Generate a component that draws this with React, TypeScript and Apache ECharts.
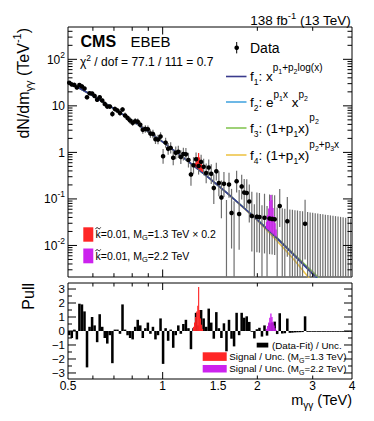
import React, { useEffect, useRef } from "react";
import * as echarts from "echarts";

const FONT = '"Liberation Sans", Arial, Helvetica, sans-serif';

// ---------------- data ----------------
// bin centres of m_gammagamma (TeV)
const binCenters = [
  0.5047, 0.5141, 0.5238, 0.5336, 0.5436, 0.5538, 0.5642, 0.5747, 0.5855, 0.5965,
  0.6076, 0.619, 0.6306, 0.6424, 0.6545, 0.6667, 0.6792, 0.692, 0.7049, 0.7181,
  0.7316, 0.7453, 0.7593, 0.7735, 0.788, 0.8028, 0.8178, 0.8331, 0.8487, 0.8646,
  0.8808, 0.8974, 0.9142, 0.9313, 0.9487, 0.9665, 0.9846, 1.0031, 1.0219, 1.041,
  1.0605, 1.0804, 1.1006, 1.1213, 1.1423, 1.1637, 1.1855, 1.2077, 1.2303, 1.2534,
  1.2769, 1.3008, 1.3252, 1.35, 1.3753, 1.4011, 1.4273, 1.4541, 1.4813, 1.5091,
  1.5374, 1.5662, 1.5955, 1.6254, 1.6559, 1.6869, 1.7185, 1.7507, 1.7835, 1.8169,
  1.851, 1.8857, 1.921, 1.957, 1.9937, 2.0311, 2.0691, 2.1079, 2.1474, 2.1876,
  2.2286, 2.2704, 2.3129, 2.3563, 2.4004, 2.4454, 2.4912, 2.5379, 2.5855, 2.6339,
  2.6833, 2.7336, 2.7848, 2.837, 2.8901, 2.9443, 2.9995, 3.0557, 3.1129, 3.1713,
  3.2307, 3.2912, 3.3529, 3.4157, 3.4797, 3.5449, 3.6114, 3.679, 3.748, 3.8182,
  3.8897, 3.9626,
];
const binRelWidth = 0.018567; // bin width / bin centre
const countScale = 650; // events per (dN/dm x bin width)

// observed events per bin
const counts = [
  190, 179, 178, 160, 184, 175, 161, 106, 132, 133,
  120, 101, 116, 101, 87, 78, 79, 56, 73, 69,
  62, 75, 57, 51, 46, 42, 46, 46, 40, 32,
  34, 34, 28, 28, 22, 22, 26, 10, 20, 15,
  16, 10, 13, 14, 11, 13, 13, 10, 5, 8,
  11, 8, 10, 8, 6, 8, 6, 3, 7, 4,
  2, 4, 0, 4, 1, 0, 5, 1, 4, 3,
  3, 2, 1, 0, 1, 1, 0, 1, 0, 1,
  1, 1, 0, 2, 0, 0, 1, 0, 0, 0,
  0, 0, 0, 1, 0, 0, 0, 0, 0, 0,
  0, 0, 0, 0, 0, 0, 0, 0, 0, 0,
  0, 0,
];

// (Data-Fit)/Unc. per bin
const pulls = [
  -0.3, -0.5, 0.1, -0.6, 1.95, 1.9, 1.4, -2.6, 0.3, 1.0,
  0.4, -0.8, 1.2, 0.3, -0.5, -0.9, -0.3, -2.3, 0.1, 0.1,
  -0.2, 1.9, 0.1, -0.3, -0.5, -0.6, 0.3, 0.8, 0.4, -0.5,
  0.2, 0.6, -0.2, 0.3, -0.6, -0.3, 0.9, -2.35, 0.2, -0.7,
  0.1, -1.2, -0.3, 0.4, -0.2, 0.5, 0.8, 0.2, -1.3, 0.2,
  1.3, 0.4, 1.5, 0.9, 0.3, 1.6, 0.6, -0.55, 1.35, 0.2,
  -0.5, 0.55, -1.45, 0.8, -0.55, -1.1, 1.3, -0.3, 1.3, 0.95,
  1.05, 0.65, -0.04, -0.53, 0.13, 0.23, -0.4, 0.4, -0.33, 0.55,
  0.61, 0.67, -0.22, 1.27, -0.18, -0.16, 0.89, -0.13, -0.12, -0.1,
  -0.09, -0.085, -0.076, 1.05, -0.06, -0.054, -0.049, -0.043, -0.038, -0.033,
  -0.029, -0.026, -0.022, -0.019, -0.016, -0.014, -0.012, -0.01, -0.009, -0.008,
  -0.007, -0.005,
];

// background fit functions (TeV^-1)
const fitMass = [0.5, 0.6, 0.7, 0.8, 0.9, 1.0, 1.2, 1.4, 1.6, 1.8, 2.0, 2.3, 2.6, 3.0, 3.2];
const fitF1 = [33.0, 16.5, 8.7, 4.83, 2.8, 1.68, 0.66, 0.288, 0.135, 0.067, 0.0356, 0.0147, 0.0065, 0.00245, 0.0016];
const fitF2 = [33.0, 16.5, 8.7, 4.83, 2.8, 1.68, 0.66, 0.288, 0.135, 0.067, 0.0355, 0.0146, 0.0064, 0.0024, 0.00158];
const fitF3 = [33.0, 16.5, 8.7, 4.83, 2.8, 1.68, 0.66, 0.288, 0.135, 0.0672, 0.0358, 0.0151, 0.0068, 0.0027, 0.00175];
const fitF4 = [33.0, 16.5, 8.7, 4.83, 2.8, 1.68, 0.66, 0.288, 0.135, 0.066, 0.0345, 0.013, 0.0052, 0.0016, 0.0009];

// signal shapes on top of the fit (upper panel)
const sig13Edges = [1.268, 1.277, 1.286, 1.295, 1.304, 1.313, 1.322, 1.331, 1.34];
const sig13Top = [0.6, 0.7, 0.8, 0.97, 0.78, 0.66, 0.56, 0.47];
const sig13Base = [0.49, 0.475, 0.458, 0.442, 0.426, 0.41, 0.395, 0.38];
const sig22Edges = [2.13, 2.147, 2.164, 2.181, 2.198, 2.215, 2.232, 2.249, 2.266, 2.283, 2.3];
const sig22Top = [0.032, 0.045, 0.062, 0.09, 0.122, 0.095, 0.064, 0.043, 0.03, 0.022];
const sig22Base = [0.0233, 0.0223, 0.0213, 0.0204, 0.0195, 0.0186, 0.0178, 0.017, 0.0162, 0.0155];

// signal / unc. (lower panel)
const pullSig13Edges = [1.248, 1.258, 1.268, 1.278, 1.288, 1.296, 1.304, 1.312, 1.322, 1.332, 1.342];
const pullSig13 = [0.3, 0.6, 1.0, 1.4, 1.8, 3.15, 1.5, 0.9, 0.45, 0.15];
const pullSig22Edges = [2.13, 2.147, 2.164, 2.181, 2.198, 2.215, 2.232, 2.249, 2.266, 2.283, 2.3];
const pullSig22 = [0.15, 0.35, 0.6, 0.95, 1.25, 1.0, 0.65, 0.4, 0.2, 0.08];

// axes
const yMin = 0.0021;
const yMax = 495;
const pullMin = -3.43;
const pullMax = 3.43;
const yTickValues = [0.01, 0.1, 1, 10, 100];
const yTickBase = ["10", "10", "1", "10", "10"];
const yTickExp = ["-2", "-1", "", "", "2"];
const xTickMajor = [1];
const xTickMinor = [0.6, 0.7, 0.8, 0.9, 2, 3];
const xLabelValues = [0.5, 1, 1.5, 2, 3, 4];
const xLabelTexts = ["0.5", "1", "1.5", "2", "3", "4"];
const pullTickValues = [-3, -2, -1, 0, 1, 2, 3];
const pullTickLabels = ["\u22123", "\u22122", "\u22121", "0", "1", "2", "3"];

// colours
const C_F1 = "#3a3b8c";
const C_F2 = "#49a7e0";
const C_F3 = "#86c655";
const C_F4 = "#eec54a";
const C_RED = "#ff2626";
const C_MAG = "#cc22ee";

// ---------------- helpers ----------------
let mctx: CanvasRenderingContext2D | null = null;
function measure(t: string, s: number, w?: string) {
  if (!mctx) mctx = document.createElement("canvas").getContext("2d");
  if (!mctx) return t.length * s * 0.55;
  mctx.font = `${w || "normal"} ${s}px ${FONT}`;
  return mctx.measureText(t).width;
}
type Piece = { t: string; s: number; dy?: number; w?: string };
function compose(pieces: Piece[], x0: number, base: number, align: string, fill = "#000") {
  const widths = pieces.map((p) => measure(p.t, p.s, p.w));
  const total = widths.reduce((a, b) => a + b, 0);
  let x = align === "right" ? x0 - total : align === "center" ? x0 - total / 2 : x0;
  return pieces.map((p, i) => {
    const el = {
      type: "text",
      x,
      y: base + (p.dy || 0) - 0.35 * p.s,
      silent: true,
      style: {
        text: p.t,
        fill,
        font: `${p.w || "normal"} ${p.s}px ${FONT}`,
        align: "left",
        verticalAlign: "middle",
        textAlign: "left",
        textVerticalAlign: "middle",
      },
    };
    x += widths[i];
    return el;
  });
}
function tilde(cx: number, cy: number) {
  return {
    type: "polyline",
    shape: {
      points: [
        [cx - 2.6, cy + 0.9],
        [cx - 1.3, cy - 0.6],
        [cx, cy],
        [cx + 1.3, cy + 0.6],
        [cx + 2.6, cy - 0.9],
      ],
      smooth: 0.4,
    },
    style: { stroke: "#000", lineWidth: 0.9, fill: "none" },
  };
}
function poissonLow(n: number) {
  if (n <= 0) return 0;
  const a = 1 - 1 / (9 * n) - 1 / (3 * Math.sqrt(n));
  return n * a * a * a;
}
function poissonHigh(n: number) {
  const m = n + 1;
  const a = 1 - 1 / (9 * m) + 1 / (3 * Math.sqrt(m));
  return m * a * a * a;
}

function buildOption() {
  const dataItems = binCenters.map((c, i) => {
    const n = counts[i];
    const norm = c * binRelWidth * countScale;
    const hi = poissonHigh(n) / norm;
    const lo = poissonLow(n) / norm;
    return [c, n > 0 ? n / norm : hi, lo, hi, n];
  });
  const pullItems = binCenters.map((c, i) => [c * (1 - binRelWidth / 2), c * (1 + binRelWidth / 2), pulls[i]]);
  const sigItems = (edges: number[], base: number[], top: number[]) =>
    top.map((t, i) => [edges[i], edges[i + 1], base[i], t]);
  const pSigItems = (edges: number[], vals: number[]) => vals.map((v, i) => [edges[i], edges[i + 1], 0, v]);

  const yTopTicks: number[][] = yTickValues.map((v) => [1, v, 1]);
  for (let e = -3; e <= 2; e++) {
    for (let k = 2; k <= 9; k++) {
      const v = k * Math.pow(10, e);
      if (v > yMin && v < yMax) yTopTicks.push([1, v, 0]);
    }
  }
  const xTicks = [...xTickMajor.map((v) => [v, 1, 1]), ...xTickMinor.map((v) => [v, 1, 0])];
  const xTicksPull = [
    ...xTickMajor.map((v) => [v, 0, 1]),
    ...xTickMinor.map((v) => [v, 0, 0]),
    ...xLabelValues.map((v) => [v, 0, 2]),
  ];
  const pullTicks: number[][] = pullTickValues.map((v) => [1, v, 1]);
  [-2.5, -1.5, -0.5, 0.5, 1.5, 2.5].forEach((v) => pullTicks.push([1, v, 0]));

  const histRender = (color: string) => (params: any, api: any) => {
    const p0 = api.coord([api.value(0), api.value(2)]);
    const p1 = api.coord([api.value(1), api.value(3)]);
    return {
      type: "rect",
      shape: {
        x: p0[0],
        y: Math.min(p0[1], p1[1]),
        width: Math.max(p1[0] - p0[0], 0.6) + 0.3,
        height: Math.abs(p1[1] - p0[1]),
      },
      style: { fill: color },
    };
  };

  const fitLine = (name: string, vals: number[], color: string, z: number) => ({
    name,
    type: "line",
    xAxisIndex: 0,
    yAxisIndex: 0,
    data: fitMass.map((m, i) => [m, vals[i]]),
    showSymbol: false,
    symbol: "none",
    clip: true,
    z,
    lineStyle: { color, width: 1.6 },
  });

  const tick = (x1: number, y1: number, x2: number, y2: number) => ({
    type: "line",
    shape: { x1, y1, x2, y2 },
    style: { stroke: "#000", lineWidth: 1 },
  });

  const series: any[] = [
    fitLine("f3", fitF3, C_F3, 2),
    fitLine("f4", fitF4, C_F4, 2),
    fitLine("f2", fitF2, C_F2, 2),
    fitLine("f1", fitF1, C_F1, 2),
    // data error bars
    {
      type: "custom",
      xAxisIndex: 0,
      yAxisIndex: 0,
      z: 3,
      encode: { x: 0, y: 1 },
      data: dataItems,
      renderItem: (params: any, api: any) => {
        const cs = params.coordSys;
        const c = api.value(0);
        const lo = api.value(2);
        const hi = api.value(3);
        const bottom = cs.y + cs.height;
        const pHi = api.coord([c, hi]);
        const yLo = lo > 0 ? Math.min(api.coord([c, lo])[1], bottom) : bottom;
        const yHi = Math.max(pHi[1], cs.y);
        return {
          type: "line",
          shape: { x1: pHi[0], y1: yLo, x2: pHi[0], y2: yHi },
          style: { stroke: "#6f6f6f", lineWidth: 1.2 },
        };
      },
    },
    {
      type: "custom",
      xAxisIndex: 0,
      yAxisIndex: 0,
      z: 4,
      encode: { x: 0, y: 3 },
      data: sigItems(sig13Edges, sig13Base, sig13Top),
      renderItem: histRender(C_RED),
    },
    {
      type: "custom",
      xAxisIndex: 0,
      yAxisIndex: 0,
      z: 4,
      encode: { x: 0, y: 3 },
      data: sigItems(sig22Edges, sig22Base, sig22Top),
      renderItem: histRender(C_MAG),
    },
    // data points
    {
      type: "custom",
      xAxisIndex: 0,
      yAxisIndex: 0,
      z: 5,
      encode: { x: 0, y: 1 },
      data: dataItems.filter((d) => d[4] > 0),
      renderItem: (params: any, api: any) => {
        const p = api.coord([api.value(0), api.value(1)]);
        return { type: "circle", shape: { cx: p[0], cy: p[1], r: 2.3 }, style: { fill: "#000" } };
      },
    },
    {
      type: "custom",
      xAxisIndex: 0,
      yAxisIndex: 0,
      z: 6,
      encode: { x: 0, y: 1 },
      data: yTopTicks,
      renderItem: (params: any, api: any) => {
        const cs = params.coordSys;
        const v = api.value(1);
        const major = api.value(2) === 1;
        const y = api.coord([1, v])[1];
        const len = major ? 9 : 4.5;
        const children: any[] = [
          tick(cs.x, y, cs.x + len, y),
          tick(cs.x + cs.width, y, cs.x + cs.width - len, y),
        ];
        if (major) {
          const idx = yTickValues.findIndex((t) => Math.abs(t - v) / t < 1e-6);
          if (idx >= 0) {
            const pieces: Piece[] = [{ t: yTickBase[idx], s: 12 }];
            if (yTickExp[idx]) pieces.push({ t: yTickExp[idx], s: 8.5, dy: -6 });
            children.push(...compose(pieces, cs.x - 3, y + 4.5, "right"));
          }
        }
        return { type: "group", children };
      },
    },
    {
      type: "custom",
      xAxisIndex: 0,
      yAxisIndex: 0,
      z: 6,
      encode: { x: 0, y: 1 },
      data: xTicks,
      renderItem: (params: any, api: any) => {
        const cs = params.coordSys;
        const x = api.coord([api.value(0), 1])[0];
        const len = api.value(2) === 1 ? 7.5 : 3.8;
        return {
          type: "group",
          children: [tick(x, cs.y + cs.height, x, cs.y + cs.height - len), tick(x, cs.y, x, cs.y + len)],
        };
      },
    },
    // pull panel
    {
      type: "custom",
      xAxisIndex: 1,
      yAxisIndex: 1,
      z: 3,
      encode: { x: 0, y: 2 },
      data: pullItems,
      renderItem: (params: any, api: any) => {
        const p0 = api.coord([api.value(0), 0]);
        const p1 = api.coord([api.value(1), api.value(2)]);
        return {
          type: "rect",
          shape: {
            x: p0[0],
            y: Math.min(p0[1], p1[1]),
            width: p1[0] - p0[0],
            height: Math.max(Math.abs(p1[1] - p0[1]), 0.8),
          },
          style: { fill: "#000" },
        };
      },
    },
    {
      type: "custom",
      xAxisIndex: 1,
      yAxisIndex: 1,
      z: 4,
      encode: { x: 0, y: 3 },
      data: pSigItems(pullSig13Edges, pullSig13),
      renderItem: histRender(C_RED),
    },
    {
      type: "custom",
      xAxisIndex: 1,
      yAxisIndex: 1,
      z: 4,
      encode: { x: 0, y: 3 },
      data: pSigItems(pullSig22Edges, pullSig22),
      renderItem: histRender(C_MAG),
    },
    {
      type: "custom",
      xAxisIndex: 1,
      yAxisIndex: 1,
      z: 6,
      encode: { x: 0, y: 1 },
      data: pullTicks,
      renderItem: (params: any, api: any) => {
        const cs = params.coordSys;
        const v = api.value(1);
        const major = api.value(2) === 1;
        const y = api.coord([1, v])[1];
        const len = major ? 8 : 4;
        const children: any[] = [
          tick(cs.x, y, cs.x + len, y),
          tick(cs.x + cs.width, y, cs.x + cs.width - len, y),
        ];
        if (major) {
          const idx = pullTickValues.indexOf(v);
          children.push(...compose([{ t: pullTickLabels[idx], s: 11.5 }], cs.x - 3, y + 4, "right"));
        }
        return { type: "group", children };
      },
    },
    {
      type: "custom",
      xAxisIndex: 1,
      yAxisIndex: 1,
      z: 6,
      encode: { x: 0, y: 1 },
      data: xTicksPull,
      renderItem: (params: any, api: any) => {
        const cs = params.coordSys;
        const v = api.value(0);
        const kind = api.value(2);
        const x = api.coord([v, 0])[0];
        if (kind === 2) {
          const idx = xLabelValues.indexOf(v);
          return { type: "group", children: compose([{ t: xLabelTexts[idx], s: 12 }], x, 390.5, "center") };
        }
        const len = kind === 1 ? 7 : 3.5;
        return {
          type: "group",
          children: [tick(x, cs.y + cs.height, x, cs.y + cs.height - len), tick(x, cs.y, x, cs.y + len)],
        };
      },
    },
  ];

  // ---------- decorations ----------
  const g: any[] = [];
  const add = (els: any[]) => els.forEach((e) => g.push(e));
  add(compose([{ t: "138 fb", s: 13.5 }, { t: "-1", s: 9.5, dy: -6 }, { t: " (13 TeV)", s: 13.5 }], 351, 25, "right"));
  add(compose([{ t: "CMS", s: 16, w: "bold" }], 80.5, 46.7, "left"));
  add(compose([{ t: "EBEB", s: 15 }], 130.5, 46.7, "left"));
  add(compose([{ t: "\u03c7", s: 12 }, { t: "2", s: 8.5, dy: -5 }, { t: " / dof = 77.1 / 111 = 0.7", s: 12 }], 80, 66, "left"));
  g.push({
    type: "group",
    x: 29,
    y: 28,
    rotation: Math.PI / 2,
    children: compose(
      [
        { t: "dN/dm", s: 16 },
        { t: "\u03b3\u03b3", s: 11, dy: 4 },
        { t: " (TeV", s: 16 },
        { t: "-1", s: 11, dy: -8 },
        { t: ")", s: 16 },
      ],
      0,
      0,
      "right"
    ),
  });
  g.push({
    type: "group",
    x: 34,
    y: 283,
    rotation: Math.PI / 2,
    children: compose([{ t: "Pull", s: 16 }], 0, 0, "right"),
  });
  add(compose([{ t: "m", s: 14.5 }, { t: "\u03b3\u03b3", s: 10, dy: 4 }, { t: " (TeV)", s: 14.5 }], 352, 405, "right"));

  // legend (upper right)
  g.push({ type: "line", shape: { x1: 236.7, y1: 42, x2: 236.7, y2: 53.4 }, style: { stroke: "#000", lineWidth: 1 } });
  g.push({ type: "circle", shape: { cx: 236.7, cy: 47.7, r: 2.3 }, style: { fill: "#000" } });
  add(compose([{ t: "Data", s: 14 }], 250, 52.7, "left"));
  const legY = [76.5, 102, 128, 155];
  const legC = [C_F1, C_F2, C_F3, C_F4];
  legY.forEach((y, i) =>
    g.push({ type: "line", shape: { x1: 226, y1: y, x2: 246.5, y2: y }, style: { stroke: legC[i], lineWidth: 1.6 } })
  );
  const M = 13.5;
  const SB = 8.5;
  const SP = 10;
  const SS = 7;
  add(
    compose(
      [
        { t: "f", s: M },
        { t: "1", s: SB, dy: 3.5 },
        { t: ": x", s: M },
        { t: "p", s: SP, dy: -11 },
        { t: "1", s: SS, dy: -8 },
        { t: "+p", s: SP, dy: -11 },
        { t: "2", s: SS, dy: -8 },
        { t: "log(x)", s: SP, dy: -11 },
      ],
      250,
      81.5,
      "left"
    )
  );
  add(
    compose(
      [
        { t: "f", s: M },
        { t: "2", s: SB, dy: 3.5 },
        { t: ": e", s: M },
        { t: "p", s: SP, dy: -9.5 },
        { t: "1", s: SS, dy: -6.5 },
        { t: "x", s: SP, dy: -9.5 },
        { t: " x", s: M },
        { t: "p", s: SP, dy: -9.5 },
        { t: "2", s: SS, dy: -6.5 },
      ],
      250,
      107,
      "left"
    )
  );
  add(
    compose(
      [
        { t: "f", s: M },
        { t: "3", s: SB, dy: 3.5 },
        { t: ": (1+p", s: M },
        { t: "1", s: SB, dy: 3.5 },
        { t: "x)", s: M },
        { t: "p", s: SP, dy: -12.5 },
        { t: "2", s: SS, dy: -9.5 },
      ],
      250,
      133,
      "left"
    )
  );
  add(
    compose(
      [
        { t: "f", s: M },
        { t: "4", s: SB, dy: 3.5 },
        { t: ": (1+p", s: M },
        { t: "1", s: SB, dy: 3.5 },
        { t: "x)", s: M },
        { t: "p", s: SP, dy: -12.5 },
        { t: "2", s: SS, dy: -9.5 },
        { t: "+p", s: SP, dy: -12.5 },
        { t: "3", s: SS, dy: -9.5 },
        { t: "x", s: SP, dy: -12.5 },
      ],
      250,
      160,
      "left"
    )
  );

  // signal legend (upper panel)
  const kW = measure("k", 10.5);
  g.push({ type: "rect", shape: { x: 83.3, y: 227.3, width: 10, height: 14.4 }, style: { fill: C_RED } });
  g.push({ type: "rect", shape: { x: 83.3, y: 248.5, width: 10, height: 14.8 }, style: { fill: C_MAG } });
  add(
    compose(
      [{ t: "k=0.01, M", s: 10.5 }, { t: "G", s: 7.5, dy: 2.5 }, { t: "=1.3 TeV \u00d7 0.2", s: 10.5 }],
      95.5,
      237.8,
      "left"
    )
  );
  g.push(tilde(95.5 + kW / 2, 237.8 - 9.6));
  add(
    compose([{ t: "k=0.01, M", s: 10.5 }, { t: "G", s: 7.5, dy: 2.5 }, { t: "=2.2 TeV", s: 10.5 }], 95.5, 259.8, "left")
  );
  g.push(tilde(95.5 + kW / 2, 259.8 - 9.6));

  // pull legend
  g.push({ type: "rect", shape: { x: 256.7, y: 342.7, width: 11.6, height: 4.8 }, style: { fill: "#000" } });
  add(compose([{ t: "(Data-Fit) / Unc.", s: 9.8 }], 272, 348.6, "left"));
  g.push({ type: "rect", shape: { x: 202.7, y: 352.3, width: 24, height: 8.6 }, style: { fill: C_RED } });
  add(
    compose(
      [{ t: "Signal / Unc. (M", s: 9.8 }, { t: "G", s: 7, dy: 2.5 }, { t: "=1.3 TeV)", s: 9.8 }],
      229.3,
      360.2,
      "left"
    )
  );
  g.push({ type: "rect", shape: { x: 202.7, y: 365, width: 24, height: 7.5 }, style: { fill: C_MAG } });
  add(
    compose(
      [{ t: "Signal / Unc. (M", s: 9.8 }, { t: "G", s: 7, dy: 2.5 }, { t: "=2.2 TeV)", s: 9.8 }],
      229.3,
      372.3,
      "left"
    )
  );

  const hiddenAxis = {
    axisLine: { show: false },
    axisTick: { show: false },
    axisLabel: { show: false },
    splitLine: { show: false },
  };

  return {
    animation: false,
    backgroundColor: "#fff",
    grid: [
      { left: 68, top: 27, width: 284, height: 250, show: true, borderColor: "#000", borderWidth: 1, backgroundColor: "transparent" },
      { left: 68, top: 283, width: 284, height: 96, show: true, borderColor: "#000", borderWidth: 1, backgroundColor: "transparent" },
    ],
    xAxis: [
      { type: "log", logBase: 10, gridIndex: 0, min: 0.5, max: 4, ...hiddenAxis },
      { type: "log", logBase: 10, gridIndex: 1, min: 0.5, max: 4, ...hiddenAxis },
    ],
    yAxis: [
      { type: "log", logBase: 10, gridIndex: 0, min: yMin, max: yMax, ...hiddenAxis },
      { type: "value", gridIndex: 1, min: pullMin, max: pullMax, ...hiddenAxis },
    ],
    series,
    graphic: { elements: g.map((e) => ({ ...e, z: 100, silent: true })) },
  };
}

export default function App() {
  const ref = useRef<HTMLDivElement>(null);
  useEffect(() => {
    if (!ref.current) return;
    const chart = echarts.init(ref.current, null, { renderer: "svg" });
    chart.setOption(buildOption() as any);
    return () => chart.dispose();
  }, []);
  return (
    <div
      ref={ref}
      style={{ position: "absolute", left: 0, top: 0, width: 374, height: 421, background: "#fff" }}
    />
  );
}
